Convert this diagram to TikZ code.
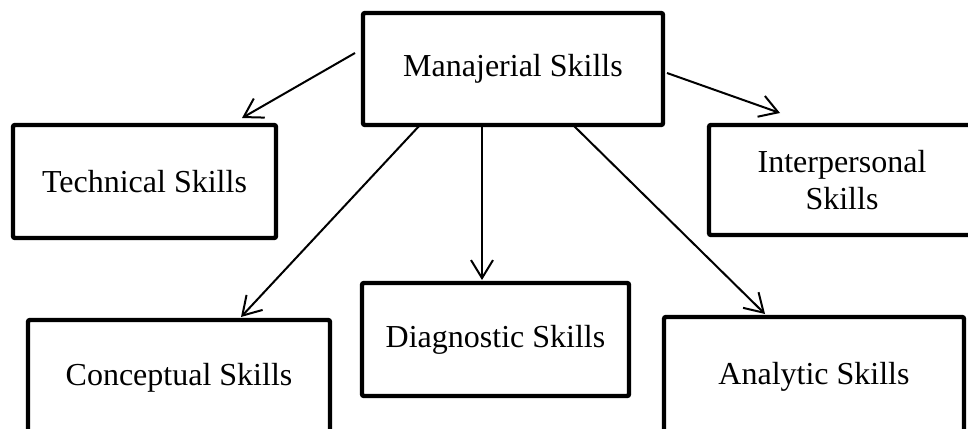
\documentclass[tikz,border=0pt]{standalone}
\usepackage{fontspec}
\setmainfont{Liberation Serif}
\usetikzlibrary{arrows.meta,calc}

\tikzset{
  skillbox/.style={draw, line width=2.2pt, rounded corners=1pt, outer sep=0pt,
    align=center, font=\fontsize{16}{18.5}\selectfont},
  skillarrow/.style={-{Straight Barb[length=9pt,width=11pt]}, line width=1pt}
}

\begin{document}
\begin{tikzpicture}[x=0.5pt, y=-0.5pt]
        \clip (0,0) rectangle (968,428);
        % The skill boxes.
            \node[skillbox, minimum width=150pt, minimum height=56pt] (man) at (513,69) {Manajerial Skills};
            \node[skillbox, minimum width=131.5pt, minimum height=56.5pt] (tech) at (144.5,181.5) {Technical Skills};
            \node[skillbox, minimum width=133pt, minimum height=55pt] (inter) at (842,180) {Interpersonal\\Skills};
            \node[skillbox, minimum width=151pt, minimum height=58pt] (concept) at (179,378) {Conceptual Skills};
            \node[skillbox, minimum width=133.5pt, minimum height=56.5pt] (diag) at (495.5,339.5) {Diagnostic Skills};
            \node[skillbox, minimum width=150pt, minimum height=60pt] (ana) at (814,377) {Analytic Skills};
        % Arrows going out of the top box.
            \draw[skillarrow] ($(man.west)+(-8,-16)$) -- ($(tech.north)+(97.5,-7)$);
            \draw[skillarrow] ($(man.east)+(4,4)$) -- ($(inter.north)+(-62,-12)$);
            \draw[skillarrow] ($(man.south)+(-93,0)$) -- ($(concept.north)+(62,-3)$);
            \draw[skillarrow] ($(man.south)+(-31,0)$) -- ($(diag.north)+(-13.5,-3)$);
            \draw[skillarrow] ($(man.south)+(60,0)$) -- ($(ana.north)+(-49,-3)$);
    \end{tikzpicture}
\end{document}
